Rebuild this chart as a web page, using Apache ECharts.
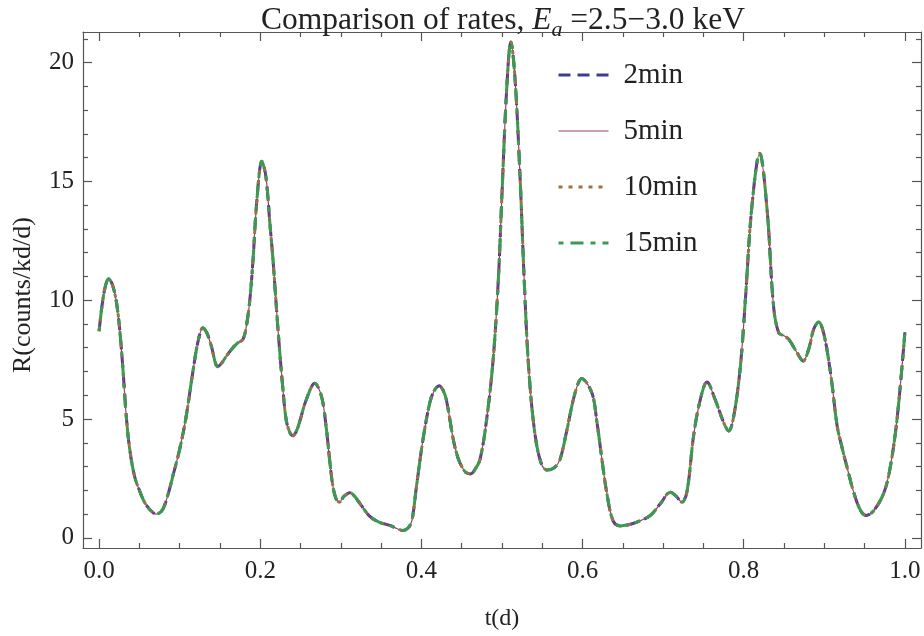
<!DOCTYPE html>
<html>
<head>
<meta charset="utf-8">
<script src="https://cdn.jsdelivr.net/npm/echarts@6/dist/echarts.min.js"></script>
<style>
html,body{margin:0;padding:0;background:#fff;}
#chart{width:924px;height:636px;}
</style>
</head>
<body>
<div id="chart"></div>
<script>
// time (days)
const tDays = [0, 0.006, 0.012, 0.017, 0.022, 0.026, 0.030, 0.0335, 0.0377, 0.0439, 0.05, 0.0563, 0.064, 0.0708, 0.077, 0.0812, 0.087, 0.0915, 0.0998, 0.108, 0.1164, 0.123, 0.1288, 0.134, 0.139, 0.1474, 0.152, 0.158, 0.166, 0.172, 0.1785, 0.1827, 0.187, 0.191, 0.196, 0.202, 0.207, 0.212, 0.2158, 0.22, 0.224, 0.228, 0.232, 0.2365, 0.2406, 0.245, 0.249, 0.257, 0.2676, 0.276, 0.282, 0.286, 0.29, 0.294, 0.298, 0.304, 0.311, 0.317, 0.3235, 0.336, 0.348, 0.361, 0.37, 0.377, 0.383, 0.388, 0.394, 0.402, 0.4105, 0.416, 0.422, 0.427, 0.431, 0.4395, 0.445, 0.45, 0.455, 0.461, 0.466, 0.4727, 0.481, 0.489, 0.4955, 0.5, 0.506, 0.511, 0.516, 0.522, 0.528, 0.533, 0.54, 0.548, 0.556, 0.565, 0.572, 0.58, 0.5907, 0.599, 0.6115, 0.6177, 0.624, 0.63, 0.638, 0.6467, 0.657, 0.6674, 0.684, 0.6964, 0.709, 0.716, 0.7233, 0.7296, 0.7378, 0.746, 0.7544, 0.7642, 0.775, 0.7813, 0.7875, 0.7958, 0.802, 0.81, 0.8198, 0.829, 0.837, 0.8434, 0.85, 0.856, 0.866, 0.8737, 0.8807, 0.887, 0.893, 0.8993, 0.9077, 0.916, 0.922, 0.928, 0.9366, 0.945, 0.952, 0.9615, 0.974, 0.982, 0.9906, 1.0];
// rate (all four curves coincide)
const rateRead = [8.7, 10.3, 10.9, 10.6, 9.8, 8.6, 6.9, 5.2, 3.8, 2.6, 2.0, 1.5, 1.15, 1.0, 1.1, 1.36, 2.0, 2.6, 3.7, 5.1, 7.0, 8.3, 8.84, 8.6, 8.1, 7.2, 7.35, 7.65, 8.0, 8.2, 8.35, 8.9, 10.0, 11.7, 14.3, 15.85, 15.2, 13.2, 11.7, 9.7, 7.9, 6.3, 5.0, 4.45, 4.3, 4.5, 4.9, 5.8, 6.5, 5.95, 4.6, 3.3, 2.2, 1.65, 1.5, 1.75, 1.9, 1.75, 1.45, 0.9, 0.65, 0.52, 0.38, 0.31, 0.4, 0.7, 2.2, 4.15, 5.7, 6.2, 6.4, 6.2, 5.8, 4.15, 3.4, 3.0, 2.75, 2.69, 2.85, 3.3, 5.0, 7.5, 10.9, 14.5, 19.0, 20.87, 19.4, 15.5, 10.5, 7.2, 4.6, 3.2, 2.85, 2.95, 3.3, 4.45, 6.1, 6.7, 6.1, 4.9, 3.3, 1.9, 0.7, 0.5, 0.55, 0.66, 0.94, 1.43, 1.92, 1.75, 1.5, 1.95, 4.3, 5.8, 6.56, 5.85, 4.86, 4.5, 5.1, 7.2, 10.0, 13.9, 16.19, 13.8, 9.75, 8.63, 8.5, 8.35, 7.8, 7.44, 7.95, 8.8, 9.08, 8.6, 6.95, 4.7, 3.8, 3.0, 1.9, 1.15, 0.94, 1.15, 1.9, 3.0, 5.1, 8.65];
const rate2min = rateRead;
const rate5min = rateRead;
const rate10min = rateRead;
const rate15min = rateRead;
const seriesNames = ['2min', '5min', '10min', '15min'];
const xMajorTicks = [0, 0.2, 0.4, 0.6, 0.8, 1.0];
const xMinorTicks = [0.05, 0.1, 0.15, 0.25, 0.3, 0.35, 0.45, 0.5, 0.55, 0.65, 0.7, 0.75, 0.85, 0.9, 0.95];
const yMajorTicks = [0, 5, 10, 15, 20];
const yMinorTicks = [1, 2, 3, 4, 6, 7, 8, 9, 11, 12, 13, 14, 16, 17, 18, 19, 21];

const FONT = '"Liberation Serif", "DejaVu Serif", serif';
const AX = '#555555';
const TXT = '#222222';
const COLORS = ['#3d3d99', '#993d74', '#99743d', '#3d9950'];
const WIDTHS = [3, 1.2, 3, 3];
const DASHES = [[12, 7], 'solid', [4, 6], [5, 7, 13, 7]];

function pairs(ys) { return tDays.map((t, i) => [t, ys[i]]); }

function xAxisDef(pos, ticks, len, withLine, withLabels) {
  return {
    type: 'value', min: -0.02, max: 1.02, position: pos,
    axisLine: { show: withLine, onZero: false, lineStyle: { color: AX, width: 1.2 } },
    axisTick: { show: true, inside: true, length: len, customValues: ticks, lineStyle: { color: AX, width: 1.2 } },
    axisLabel: withLabels ? { show: true, customValues: ticks, formatter: v => v.toFixed(1), fontFamily: FONT, fontSize: 25, color: TXT, margin: 11 } : { show: false },
    splitLine: { show: false },
    name: withLabels ? 't(d)' : '',
    nameLocation: 'middle', nameGap: 59,
    nameTextStyle: { fontFamily: FONT, fontSize: 24, color: TXT }
  };
}
function yAxisDef(pos, ticks, len, withLine, withLabels) {
  return {
    type: 'value', min: -0.43, max: 21.29, position: pos,
    axisLine: { show: withLine, onZero: false, lineStyle: { color: AX, width: 1.2 } },
    axisTick: { show: true, inside: true, length: len, customValues: ticks, lineStyle: { color: AX, width: 1.2 } },
    axisLabel: withLabels ? { show: true, customValues: ticks, fontFamily: FONT, fontSize: 25, color: TXT, margin: 9 } : { show: false },
    splitLine: { show: false },
    name: withLabels ? 'R(counts/kd/d)' : '',
    nameLocation: 'middle', nameGap: 47, nameRotate: 90,
    nameTextStyle: { fontFamily: FONT, fontSize: 26, color: TXT, padding: [0, 10, 0, 0] }
  };
}

function lineSeries(i, data) {
  return {
    name: seriesNames[i], type: 'line', data: pairs(data), symbol: 'none', showSymbol: false, smooth: 0.35,
    itemStyle: { color: COLORS[i], opacity: 0 },
    lineStyle: { color: COLORS[i], width: WIDTHS[i], type: DASHES[i] }
  };
}

const chart = echarts.init(document.getElementById('chart'), null, { renderer: 'canvas' });
chart.setOption({
  animation: false,
  backgroundColor: '#ffffff',
  title: {
    text: '{n|Comparison of rates, }{i|E}{s|a}{n| =2.5\u22123.0 keV}',
    left: 498, textAlign: 'center', top: -5,
    textStyle: {
      fontWeight: 'normal',
      rich: {
        n: { fontFamily: FONT, fontSize: 31.5, fontWeight: 'normal', color: TXT },
        i: { fontFamily: FONT, fontSize: 31.5, fontWeight: 'normal', fontStyle: 'italic', color: TXT },
        s: { fontFamily: FONT, fontSize: 22, fontWeight: 'normal', fontStyle: 'italic', color: TXT, padding: [19, 0, 0, 0] }
      }
    }
  },
  grid: { left: 83, right: 3, top: 32, bottom: 87, containLabel: false },
  legend: {
    orient: 'vertical', left: 557, top: 60, padding: 0,
    itemWidth: 50, itemHeight: 14, itemGap: 26,
    data: seriesNames.map((n, i) => ({
      name: n,
      itemStyle: { opacity: 0 },
      lineStyle: { color: COLORS[i], width: WIDTHS[i], type: DASHES[i] }
    })),
    itemStyle: { opacity: 0 },
    textStyle: { fontFamily: FONT, fontSize: 29, color: TXT, padding: [0, 0, 0, 10], lineHeight: 30 }
  },
  xAxis: [
    xAxisDef('bottom', xMajorTicks, 9, true, true),
    xAxisDef('bottom', xMinorTicks, 5, false, false),
    xAxisDef('top', xMajorTicks, 9, true, false),
    xAxisDef('top', xMinorTicks, 5, false, false)
  ],
  yAxis: [
    yAxisDef('left', yMajorTicks, 9, true, true),
    yAxisDef('left', yMinorTicks, 5, false, false),
    yAxisDef('right', yMajorTicks, 9, true, false),
    yAxisDef('right', yMinorTicks, 5, false, false)
  ],
  series: [
    lineSeries(0, rate2min),
    lineSeries(1, rate5min),
    lineSeries(2, rate10min),
    lineSeries(3, rate15min)
  ]
});
</script>
</body>
</html>
